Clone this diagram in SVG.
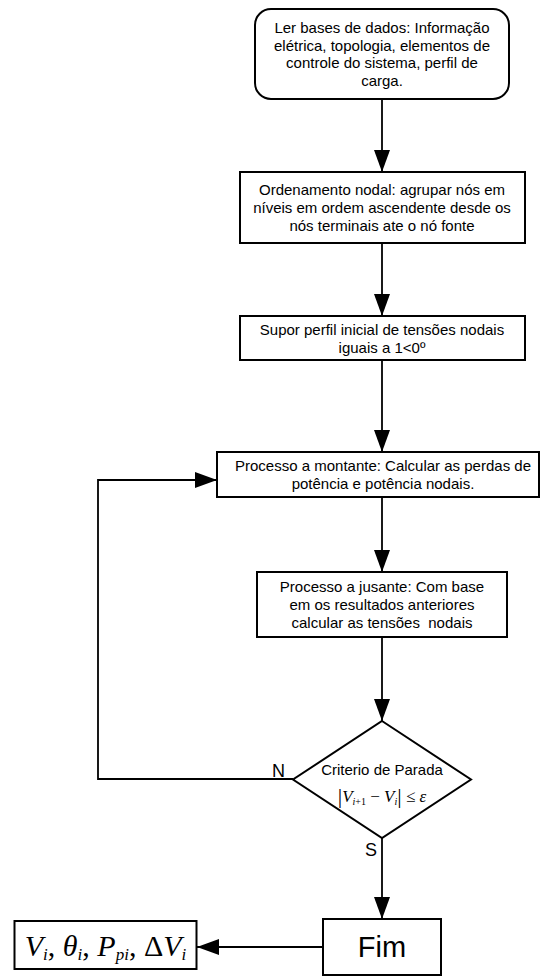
<svg xmlns="http://www.w3.org/2000/svg" width="540" height="976" viewBox="0 0 540 976">
  <style>
    .box { fill: #ffffff; stroke: #000000; stroke-width: 2; }
    .lbl { font-family: "Liberation Sans", Arial, sans-serif; font-size: 15px; fill: #000000; text-anchor: middle; }
    .yn { font-family: "Liberation Sans", Arial, sans-serif; font-size: 18px; fill: #000000; }
    .math { font-family: "Liberation Serif", "Times New Roman", serif; fill: #000000; }
    .it { font-style: italic; }
    .wire { fill: none; stroke: #000000; stroke-width: 1.8; }
  </style>
  <defs>
    <marker id="arrow" markerUnits="userSpaceOnUse" markerWidth="22" markerHeight="16" refX="22" refY="8" orient="auto">
      <path d="M0,0 L22,8 L0,16 Z" fill="#000000"/>
    </marker>
  </defs>

  <rect width="540" height="976" fill="#ffffff"/>

  <!-- connectors -->
  <g id="connectors">
    <line class="wire" x1="382" y1="99" x2="382" y2="172" marker-end="url(#arrow)"/>
    <line class="wire" x1="382" y1="243" x2="382" y2="316" marker-end="url(#arrow)"/>
    <line class="wire" x1="382" y1="360" x2="382" y2="452" marker-end="url(#arrow)"/>
    <line class="wire" x1="382" y1="497" x2="382" y2="572" marker-end="url(#arrow)"/>
    <line class="wire" x1="382" y1="637" x2="382" y2="721" marker-end="url(#arrow)"/>
    <line class="wire" x1="382" y1="838" x2="382" y2="919" marker-end="url(#arrow)"/>
    <line class="wire" x1="323" y1="947" x2="197" y2="947" marker-end="url(#arrow)"/>
    <polyline class="wire" points="293,779 98,779 98,480 217,480" marker-end="url(#arrow)"/>
    <text class="yn" x="272" y="777">N</text>
    <text class="yn" x="365" y="856">S</text>
  </g>

  <!-- start: read input data -->
  <g id="node-read">
    <rect class="box" x="255" y="9" width="254" height="90" rx="16" ry="16"/>
    <text class="lbl" x="382" y="33">Ler bases de dados: Informação</text>
    <text class="lbl" x="382" y="50.5">elétrica, topologia, elementos de</text>
    <text class="lbl" x="382" y="68">controle do sistema, perfil de</text>
    <text class="lbl" x="382" y="85.5">carga.</text>
  </g>

  <!-- nodal ordering -->
  <g id="node-order">
    <rect class="box" x="240" y="172" width="285" height="71"/>
    <text class="lbl" x="382" y="195">Ordenamento nodal: agrupar nós em</text>
    <text class="lbl" x="382" y="213">níveis em ordem ascendente desde os</text>
    <text class="lbl" x="382" y="231">nós terminais ate o nó fonte</text>
  </g>

  <!-- initial voltage profile -->
  <g id="node-init">
    <rect class="box" x="240" y="316" width="285" height="44"/>
    <text class="lbl" x="382" y="335">Supor perfil inicial de tensões nodais</text>
    <text class="lbl" x="382" y="353">iguais a 1&lt;0º</text>
  </g>

  <!-- backward sweep -->
  <g id="node-upstream">
    <rect class="box" x="217" y="452" width="322" height="45"/>
    <text class="lbl" x="383" y="471">Processo a montante: Calcular as perdas de</text>
    <text class="lbl" x="383" y="488.5">potência e potência nodais.</text>
  </g>

  <!-- forward sweep -->
  <g id="node-downstream">
    <rect class="box" x="257" y="572" width="250" height="65"/>
    <text class="lbl" x="382" y="591.5">Processo a jusante: Com base</text>
    <text class="lbl" x="382" y="609.5">em os resultados anteriores</text>
    <text class="lbl" x="382" y="627.5" xml:space="preserve">calcular as tensões  nodais</text>
  </g>

  <!-- stopping criterion -->
  <g id="node-criterion">
    <polygon class="box" points="382,721 471,779.5 382,838 293,779.5"/>
    <text class="lbl" x="382" y="775">Criterio de Parada</text>
    <text class="math" x="382" y="802" text-anchor="middle" font-size="17"><tspan font-size="22" dy="1">|</tspan><tspan class="it" dy="-1">V</tspan><tspan font-size="10" dy="3"><tspan class="it">i</tspan>+1</tspan><tspan dy="-3"> − </tspan><tspan class="it">V</tspan><tspan class="it" font-size="10" dy="3">i</tspan><tspan font-size="22" dy="-2">|</tspan><tspan dy="-1"> ≤ </tspan><tspan class="it">ε</tspan></text>
  </g>

  <!-- end -->
  <g id="node-end">
    <rect class="box" x="323" y="919" width="118" height="56"/>
    <text x="382" y="957" font-family="'Liberation Sans', Arial, sans-serif" font-size="29" text-anchor="middle">Fim</text>
  </g>

  <!-- results -->
  <g id="node-output">
    <rect class="box" x="14.5" y="921" width="182" height="48"/>
    <text class="math" x="105.5" y="956" text-anchor="middle" font-size="30"><tspan class="it">V</tspan><tspan class="it" font-size="17" dy="4">i</tspan><tspan dy="-4">, </tspan><tspan class="it">θ</tspan><tspan class="it" font-size="17" dy="4">i</tspan><tspan dy="-4">, </tspan><tspan class="it">P</tspan><tspan class="it" font-size="17" dy="4">pi</tspan><tspan dy="-4">, Δ</tspan><tspan class="it">V</tspan><tspan class="it" font-size="17" dy="4">i</tspan></text>
  </g>
</svg>
